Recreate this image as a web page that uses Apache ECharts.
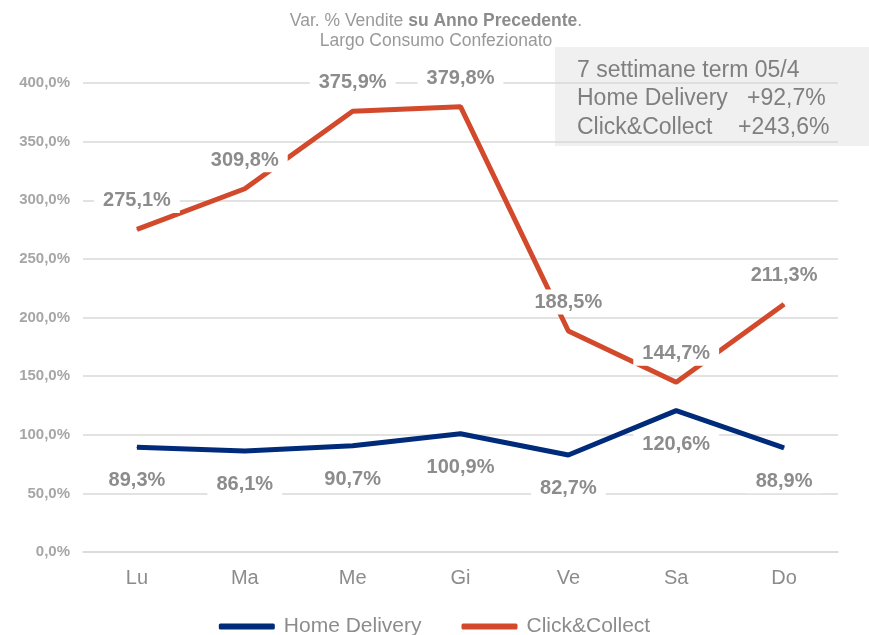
<!DOCTYPE html>
<html><head><meta charset="utf-8">
<script src="https://cdn.jsdelivr.net/npm/echarts@6/dist/echarts.min.js"></script>
<style>html,body{margin:0;padding:0;background:#fff}#c{width:869px;height:635px}</style>
</head><body><div id="c"></div>
<script>
var categories = ['Lu','Ma','Me','Gi','Ve','Sa','Do'];
var homeDelivery = [89.3, 86.1, 90.7, 100.9, 82.7, 120.6, 88.9];
var clickCollect = [275.1, 309.8, 375.9, 379.8, 188.5, 144.7, 211.3];
var seriesNames = ['Home Delivery', 'Click&Collect'];
var noteLines = ['7 settimane term 05/4', 'Home Delivery   +92,7%', 'Click&Collect    +243,6%'];

function pct(v){ return v.toFixed(1).replace('.', ',') + '%'; }

var FF = 'Liberation Sans, Arial, sans-serif';
var chart = echarts.init(document.getElementById('c'), null, {renderer:'canvas'});
var labelStyle = {
  show: true,
  formatter: function(p){ return pct(p.value); },
  fontFamily: FF,
  fontSize: 20, fontWeight: 'bold', color: '#8c8c8c',
  backgroundColor: '#ffffff', padding: [3, 9, 2, 9]
};
chart.setOption({
  animation: false,
  textStyle: {fontFamily: FF},
  title: {
    text: '{n|Var. % Vendite }{b|su Anno Precedente}{n|.}\n{n|Largo Consumo Confezionato}',
    top: 6, left: 431, textAlign: 'center',
    textStyle: {
      fontWeight: 'normal',
      rich: {
        n: {fontSize: 17.5, color: '#999999', fontWeight: 'normal', lineHeight: 20, fontFamily: FF},
        b: {fontSize: 17.5, color: '#8c8c8c', fontWeight: 'bold', lineHeight: 20, fontFamily: FF}
      }
    }
  },
  grid: {left: 83, right: 31, top: 83, bottom: 83},
  xAxis: {
    type: 'category', data: categories, boundaryGap: true,
    axisLine: {show: true, lineStyle: {color: '#d9d9d9', width: 1.5}},
    axisTick: {show: false},
    axisLabel: {fontSize: 20, color: '#8c8c8c', margin: 16}
  },
  yAxis: {
    type: 'value', min: 0, max: 400, interval: 50,
    axisLine: {show: false}, axisTick: {show: false},
    splitLine: {lineStyle: {color: '#d9d9d9', width: 1.5}},
    axisLabel: {fontSize: 15, fontWeight: 'bold', color: '#a6a6a6', margin: 13,
      formatter: function(v){ return pct(v); }}
  },
  legend: {
    data: seriesNames, bottom: -7, left: 'center', itemGap: 40,
    icon: 'roundRect', itemWidth: 56, itemHeight: 6,
    textStyle: {fontSize: 21, color: '#8c8c8c', padding: [0,0,0,4]}
  },
  graphic: [{
    type: 'rect', shape: {x: 555, y: 47, width: 314, height: 99},
    style: {fill: '#f0f0f0'}, z: 0
  }, {
    type: 'text', x: 577, y: 56,
    style: {text: noteLines.join('\n'), fontSize: 23, lineHeight: 28.5, fill: '#7f7f7f',
      fontFamily: FF}, z: 1
  }],
  series: [{
    name: seriesNames[0], type: 'line', data: homeDelivery,
    symbol: 'circle', symbolSize: 1, showSymbol: true,
    lineStyle: {width: 5, color: '#002b7a'}, itemStyle: {color: '#002b7a'},
    label: Object.assign({position: 'bottom', distance: 20}, labelStyle)
  }, {
    name: seriesNames[1], type: 'line', data: clickCollect,
    symbol: 'circle', symbolSize: 1, showSymbol: true,
    lineStyle: {width: 5, color: '#d24a2b'}, itemStyle: {color: '#d24a2b'},
    label: Object.assign({position: 'top', distance: 16}, labelStyle)
  }]
});
</script></body></html>
